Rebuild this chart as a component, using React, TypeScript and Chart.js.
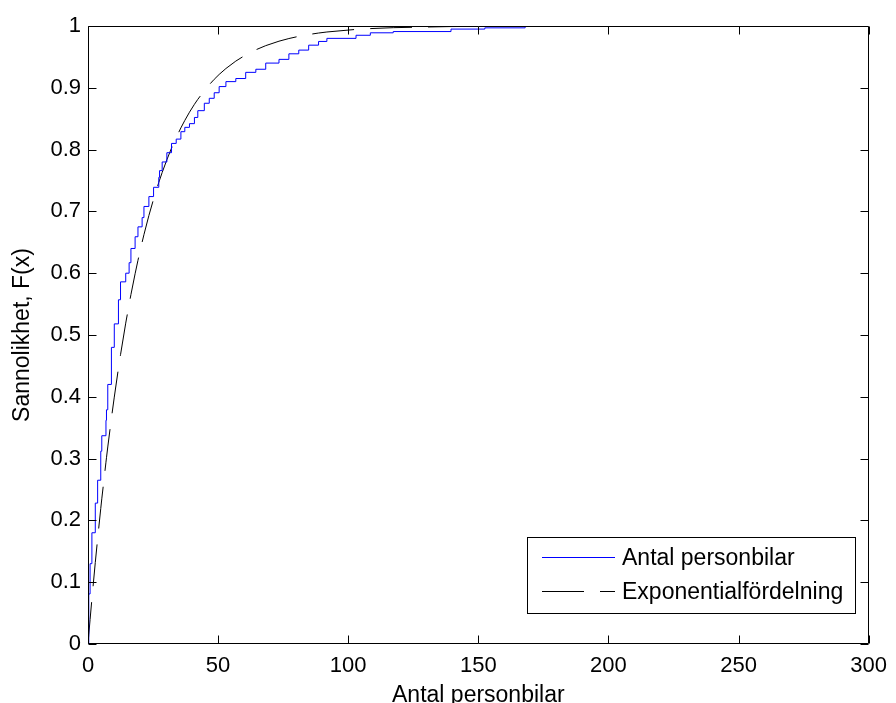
import React, { useEffect, useRef } from "react";
import { Chart, registerables } from "chart.js";
Chart.register(...registerables);

const ecdfX = [0, 0.3, 0.8, 1.5, 2.8, 3.7, 4.9, 5.3, 6.9, 7.1, 7.6, 9.0, 10.1, 11.7, 12.5, 14.5, 15.8, 16.5, 18.1, 19.2, 20.8, 21.5, 23.4, 25.2, 27.2, 27.5, 28.5, 30.3, 32.1, 33.9, 35.7, 37.2, 39, 40.9, 42.2, 44.7, 46.6, 48.5, 50.4, 53, 56.8, 60.6, 64.5, 68.3, 73.4, 77.2, 81, 84.8, 88.6, 91.8, 103, 108.5, 117.3, 139.5, 152.5, 168, 258];
const ecdfY = [0, 0.081, 0.13, 0.18, 0.228, 0.265, 0.312, 0.337, 0.362, 0.379, 0.42, 0.48, 0.518, 0.557, 0.586, 0.6, 0.617, 0.64, 0.659, 0.675, 0.69, 0.708, 0.724, 0.739, 0.755, 0.766, 0.78, 0.795, 0.81, 0.817, 0.829, 0.836, 0.842, 0.852, 0.863, 0.875, 0.883, 0.892, 0.902, 0.91, 0.915, 0.925, 0.93, 0.94, 0.946, 0.955, 0.961, 0.969, 0.975, 0.98, 0.985, 0.989, 0.991, 0.995, 0.997, 1.0, 1.0];

// Fitted exponential distribution at the same points
const expX = [0, 0.3, 0.8, 1.5, 2.8, 3.7, 4.9, 5.3, 6.9, 7.1, 7.6, 9.0, 10.1, 11.7, 12.5, 14.5, 15.8, 16.5, 18.1, 19.2, 20.8, 21.5, 23.4, 25.2, 27.2, 27.5, 28.5, 30.3, 32.1, 33.9, 35.7, 37.2, 39, 40.9, 42.2, 44.7, 46.6, 48.5, 50.4, 53, 56.8, 60.6, 64.5, 68.3, 73.4, 77.2, 81, 84.8, 88.6, 91.8, 103, 108.5, 117.3, 139.5, 152.5, 168, 258];
const expY = [0, 0.015, 0.0396, 0.073, 0.1319, 0.1704, 0.2193, 0.2349, 0.2942, 0.3014, 0.3188, 0.3653, 0.3995, 0.4462, 0.4681, 0.5192, 0.5498, 0.5654, 0.5991, 0.6208, 0.6502, 0.6624, 0.6933, 0.7199, 0.7469, 0.7506, 0.7629, 0.7835, 0.8024, 0.8195, 0.8352, 0.8472, 0.8605, 0.8733, 0.8813, 0.8954, 0.905, 0.9137, 0.9216, 0.9312, 0.9432, 0.9532, 0.9615, 0.9682, 0.9754, 0.9797, 0.9833, 0.9862, 0.9886, 0.9903, 0.9945, 0.9958, 0.9973, 0.9991, 0.9995, 0.9998, 1.0];

const seriesNames = ["Antal personbilar", "Exponentialfördelning"];
const xTickValues = [0, 50, 100, 150, 200, 250, 300];
const xTickLabels = ["0", "50", "100", "150", "200", "250", "300"];
const yTickValues = [0, 0.1, 0.2, 0.3, 0.4, 0.5, 0.6, 0.7, 0.8, 0.9, 1];
const yTickLabels = ["0", "0.1", "0.2", "0.3", "0.4", "0.5", "0.6", "0.7", "0.8", "0.9", "1"];
const xTitle = "Antal personbilar";
const yTitle = "Sannolikhet, F(x)";

const FONT = "'Liberation Sans', Arial, sans-serif";
const DASH = [42, 16];

const framePlugin = {
  id: "matlabFrame",
  afterDatasetsDraw(chart: any) {
    const { ctx, chartArea, scales } = chart;
    const { left, right, top, bottom } = chartArea;
    ctx.save();
    ctx.strokeStyle = "#000";
    ctx.lineWidth = 1;
    ctx.setLineDash([]);
    const L = Math.round(left) + 0.5, R = Math.round(right) - 0.5;
    const T = Math.round(top) + 0.5, B = Math.round(bottom) - 0.5;
    ctx.beginPath();
    ctx.rect(L, T, R - L, B - T);
    ctx.stroke();
    const tl = 8;
    ctx.beginPath();
    xTickValues.forEach((v) => {
      const px = Math.round(scales.x.getPixelForValue(v)) + 0.5;
      ctx.moveTo(px, B); ctx.lineTo(px, B - tl);
      ctx.moveTo(px, T); ctx.lineTo(px, T + tl);
    });
    yTickValues.forEach((v) => {
      const py = Math.round(scales.y.getPixelForValue(v)) + 0.5;
      ctx.moveTo(L, py); ctx.lineTo(L + tl, py);
      ctx.moveTo(R, py); ctx.lineTo(R - tl, py);
    });
    ctx.stroke();
    ctx.restore();
  },
  afterDraw(chart: any) {
    const { ctx } = chart;
    ctx.save();
    const bx = 527.5, by = 537.5, bw = 328, bh = 76;
    ctx.fillStyle = "#fff";
    ctx.fillRect(bx, by, bw, bh);
    ctx.strokeStyle = "#000";
    ctx.lineWidth = 1;
    ctx.strokeRect(bx, by, bw, bh);
    const rows = [557.5, 591.5];
    ctx.beginPath();
    ctx.strokeStyle = "#0000ff";
    ctx.moveTo(542, rows[0]); ctx.lineTo(615, rows[0]);
    ctx.stroke();
    ctx.beginPath();
    ctx.strokeStyle = "#000000";
    ctx.setLineDash(DASH);
    ctx.moveTo(542, rows[1]); ctx.lineTo(615, rows[1]);
    ctx.stroke();
    ctx.setLineDash([]);
    ctx.fillStyle = "#000";
    ctx.font = `23px ${FONT}`;
    ctx.textAlign = "left";
    ctx.textBaseline = "middle";
    ctx.fillText(seriesNames[0], 622, rows[0] + 1);
    ctx.fillText(seriesNames[1], 622, rows[1] + 1);
    ctx.restore();
  },
};

export default function App() {
  const ref = useRef<HTMLCanvasElement>(null);
  useEffect(() => {
    if (!ref.current) return;
    const chart = new Chart(ref.current, {
      type: "line",
      data: {
        datasets: [
          {
            label: seriesNames[0],
            data: ecdfX.map((x, i) => ({ x, y: ecdfY[i] })),
            borderColor: "#0000ff",
            borderWidth: 1,
            pointRadius: 0,
            stepped: "before",
            fill: false,
          },
          {
            label: seriesNames[1],
            data: expX.map((x, i) => ({ x, y: expY[i] })),
            borderColor: "#000000",
            borderWidth: 1,
            borderDash: DASH,
            pointRadius: 0,
            tension: 0,
            fill: false,
          },
        ],
      },
      options: {
        animation: false,
        responsive: false,
        devicePixelRatio: 1,
        layout: { padding: { left: 0, right: 23, top: 26, bottom: 0 } },
        plugins: { legend: { display: false }, tooltip: { enabled: false } },
        scales: {
          x: {
            type: "linear",
            min: 0,
            max: 300,
            afterBuildTicks: (s: any) => { s.ticks = xTickValues.map((v) => ({ value: v })); },
            afterFit: (s: any) => { s.height = 59; },
            ticks: {
              autoSkip: false,
              maxRotation: 0,
              minRotation: 0,
              padding: 9,
              color: "#000",
              font: { family: FONT, size: 22 },
              callback: (_v: any, i: number) => xTickLabels[i],
            },
            grid: { display: false, drawTicks: false },
            border: { display: false },
            title: {
              display: true,
              text: xTitle,
              color: "#000",
              font: { family: FONT, size: 23 },
              padding: { top: 0, bottom: -6 },
            },
          },
          y: {
            type: "linear",
            min: 0,
            max: 1,
            afterBuildTicks: (s: any) => { s.ticks = yTickValues.map((v) => ({ value: v })); },
            afterFit: (s: any) => { s.width = 88; },
            ticks: {
              autoSkip: false,
              padding: 7,
              color: "#000",
              font: { family: FONT, size: 22 },
              callback: (_v: any, i: number) => yTickLabels[i],
            },
            grid: { display: false, drawTicks: false },
            border: { display: false },
            title: {
              display: true,
              text: yTitle,
              color: "#000",
              font: { family: FONT, size: 23 },
              padding: { top: 9, bottom: 0 },
            },
          },
        },
      },
      plugins: [framePlugin],
    });
    return () => chart.destroy();
  }, []);
  return (
    <div style={{ position: "fixed", left: 0, top: 0, width: 896, height: 703, background: "#fff" }}>
      <canvas ref={ref} width={896} height={703} style={{ width: 896, height: 703, display: "block" }} />
    </div>
  );
}
